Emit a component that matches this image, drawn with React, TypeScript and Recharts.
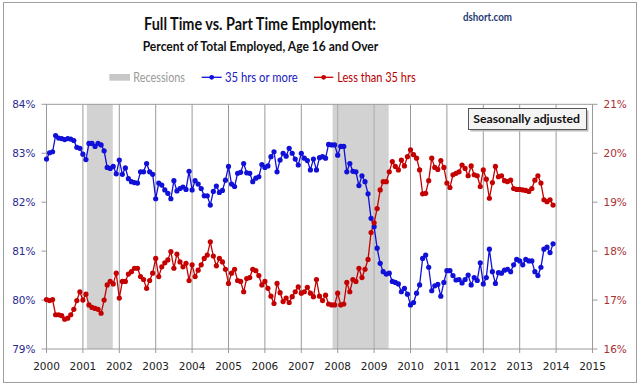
import {
  CartesianGrid,
  Line,
  LineChart,
  ReferenceArea,
  ReferenceLine,
  XAxis,
  YAxis,
} from "recharts";

const YEARS = [
  2000, 2001, 2002, 2003, 2004, 2005, 2006, 2007, 2008, 2009, 2010, 2011, 2012,
  2013, 2014, 2015,
];
const LEFT_TICKS = [79, 80, 81, 82, 83, 84];
const RIGHT_TICKS = [16, 17, 18, 19, 20, 21];

// recession spans, decimal years
const RECESSIONS = [
  [2001.11, 2001.82],
  [2007.86, 2009.4],
];

// 35 hrs or more, % of employed, monthly from Jan 2000
const FULL_TIME = [
  82.88, 83.01, 83.03, 83.36, 83.31, 83.3, 83.28, 83.3, 83.29, 83.26, 83.12, 83.1,
  82.98, 82.87, 83.2, 83.2, 83.14, 83.2, 83.17, 83.05, 82.71, 82.69, 82.73, 82.58,
  82.86, 82.57, 82.7, 82.48, 82.42, 82.4, 82.39, 82.62, 82.62, 82.79, 82.62, 82.57,
  82.07, 82.39, 82.35, 82.25, 82.18, 82.07, 82.44, 82.23, 82.28, 82.31, 82.26, 82.63,
  82.25, 82.44, 82.37, 82.28, 82.13, 82.13, 81.94, 82.22, 82.33, 82.2, 82.24, 82.45,
  82.73, 82.37, 82.32, 82.59, 82.61, 82.79, 82.6, 82.59, 82.42, 82.49, 82.52, 82.77,
  82.71, 82.74, 82.93, 83.03, 82.62, 82.86, 83.0, 82.94, 83.1, 83.0, 82.88, 82.76,
  83.0, 82.9, 82.85, 82.66, 82.88, 82.66, 82.91, 82.93, 82.9, 83.18, 83.17, 83.17,
  82.96, 83.14, 83.14, 82.62, 82.79, 82.63, 82.62, 82.34, 82.54, 82.42, 82.17, 81.67,
  81.5, 81.06, 80.75, 80.58, 80.53, 80.55, 80.38, 80.36, 80.33, 80.17, 80.24, 80.12,
  79.9, 79.95, 80.14, 80.31, 80.85, 80.92, 80.67, 80.19, 80.29, 80.32, 80.08, 80.36,
  80.6, 80.6, 80.5, 80.41, 80.42, 80.35, 80.42, 80.51, 80.31, 80.46, 80.4, 80.76,
  80.33, 80.46, 81.04, 80.58, 80.34, 80.56, 80.55, 80.61, 80.63, 80.58, 80.72, 80.83,
  80.8, 80.72, 80.83, 80.8, 80.8, 80.58, 80.5, 80.67, 81.04, 81.08, 80.97, 81.15,
];

// less than 35 hrs
const PART_TIME = [
  17.01, 16.99, 17.01, 16.7, 16.7, 16.68, 16.61, 16.63, 16.7, 16.81, 16.99, 17.17,
  17.0, 17.12, 16.9, 16.85, 16.83, 16.81, 16.73, 17.0, 17.31, 17.38, 17.33, 17.55,
  17.04, 17.38, 17.38, 17.53, 17.58, 17.65, 17.65, 17.48, 17.42, 17.24, 17.4, 17.55,
  17.85, 17.48, 17.68, 17.76, 17.82, 17.99, 17.65, 17.94, 17.78, 17.68, 17.75, 17.4,
  17.72, 17.48, 17.61, 17.72, 17.85, 17.92, 18.19, 17.9, 17.7, 17.85, 17.78, 17.63,
  17.34, 17.55, 17.63, 17.4, 17.38, 17.17, 17.44, 17.46, 17.63, 17.6, 17.5, 17.31,
  17.38, 17.24, 17.08, 16.93, 17.34, 17.15, 16.97, 17.04, 16.95, 17.07, 17.17, 17.27,
  17.14, 17.17, 17.26, 17.14, 17.07, 17.42, 17.08, 16.99, 17.1, 16.92, 16.9, 16.9,
  17.14, 16.9, 16.92, 17.36, 17.17, 17.42, 17.38, 17.65, 17.46, 17.63, 17.83, 18.38,
  18.58, 18.87, 19.25, 19.42, 19.42, 19.62, 19.83, 19.73, 19.66, 19.86, 19.74, 19.93,
  20.07, 19.97, 19.9, 19.66, 19.17, 19.18, 19.44, 19.9, 19.71, 19.67, 19.85, 19.71,
  19.39, 19.3, 19.56, 19.59, 19.62, 19.76, 19.69, 19.54, 19.74, 19.56, 19.54, 19.32,
  19.66, 19.47, 19.08, 19.4, 19.73, 19.52, 19.54, 19.44, 19.42, 19.45, 19.28, 19.26,
  19.26, 19.25, 19.24, 19.22, 19.28, 19.45, 19.54, 19.39, 19.05, 19.01, 19.05, 18.94,
];

const data = FULL_TIME.map((v, i) => ({
  t: 2000 + i / 12,
  full: v,
  part: PART_TIME[i],
}));

const BLUE = "#1010d8";
const RED = "#c40000";
const GRID = "#9a9a9a";
const TICK_FONT = "DejaVu Sans, Verdana, sans-serif";
const TITLE_FONT = "Lato, Carlito, Calibri, sans-serif";

const Overlay = () => (
  <svg
    width={640}
    height={387}
    style={{ position: "absolute", left: 0, top: 0, pointerEvents: "none" }}
  >
    <rect x={3.5} y={2.5} width={633} height={380} fill="none" stroke="#a0a0a0" />
    <text
      x={144}
      y={30}
      textLength={232}
      lengthAdjust="spacingAndGlyphs"
      fontFamily={TITLE_FONT}
      fontWeight={700}
      fontSize={16.5}
      fill="#111"
    >
      Full Time vs. Part Time Employment:
    </text>
    <text
      x={142.7}
      y={50.7}
      textLength={235.6}
      lengthAdjust="spacingAndGlyphs"
      fontFamily={TITLE_FONT}
      fontWeight={700}
      fontSize={12.8}
      fill="#111"
    >
      Percent of Total Employed, Age 16 and Over
    </text>
    <text
      x={463}
      y={20.7}
      textLength={49}
      lengthAdjust="spacingAndGlyphs"
      fontFamily={TITLE_FONT}
      fontWeight={700}
      fontSize={10.5}
      fill="#1f3b73"
    >
      dshort.com
    </text>

    {/* legend */}
    <rect x={109.3} y={74} width={20.7} height={6.7} fill="#c8c8c8" />
    <text
      x={133.3}
      y={81.5}
      textLength={51.7}
      lengthAdjust="spacingAndGlyphs"
      fontFamily={TITLE_FONT}
      fontSize={12.5}
      fill="#9a9a9a"
    >
      Recessions
    </text>
    <line x1={201.7} x2={221.7} y1={77.3} y2={77.3} stroke={BLUE} strokeWidth={1.3} />
    <circle cx={211.7} cy={77.3} r={2.4} fill={BLUE} />
    <text
      x={225}
      y={81.5}
      textLength={72.7}
      lengthAdjust="spacingAndGlyphs"
      fontFamily={TITLE_FONT}
      fontSize={12.5}
      fill="#2020c0"
    >
      35 hrs or more
    </text>
    <line x1={314} x2={333.3} y1={77.3} y2={77.3} stroke={RED} strokeWidth={1.3} />
    <circle cx={323.7} cy={77.3} r={2.4} fill={RED} />
    <text
      x={337.3}
      y={81.5}
      textLength={78.4}
      lengthAdjust="spacingAndGlyphs"
      fontFamily={TITLE_FONT}
      fontSize={12.5}
      fill="#b80000"
    >
      Less than 35 hrs
    </text>

    {/* note box */}
    <rect x={470.5} y={110.5} width={118} height={21} fill="#bdbdbd" />
    <rect x={468.5} y={108.5} width={118} height={21} fill="#f4f4f4" stroke="#555" />
    <text
      x={473.3}
      y={122.5}
      textLength={106.7}
      lengthAdjust="spacingAndGlyphs"
      fontFamily={TITLE_FONT}
      fontWeight={700}
      fontSize={11.5}
      fill="#111"
    >
      Seasonally adjusted
    </text>
  </svg>
);

export default function App() {
  return (
    <div
      style={{
        position: "absolute",
        left: 0,
        top: 0,
        width: 640,
        height: 387,
        background: "#fff",
      }}
    >
      <LineChart
        width={640}
        height={387}
        data={data}
        margin={{ top: 104.3, right: 7, bottom: 8, left: 6 }}
      >
        <CartesianGrid horizontal={false} stroke={GRID} yAxisId="left" />
        {RECESSIONS.map(([a, b]) => (
          <ReferenceArea
            key={a}
            x1={a}
            x2={b}
            yAxisId="left"
            fill="#b4b4b4"
            fillOpacity={0.6}
            stroke="none"
            ifOverflow="visible"
          />
        ))}
        <ReferenceLine y={84} yAxisId="left" stroke={GRID} />
        <XAxis
          dataKey="t"
          type="number"
          domain={[2000, 2015]}
          ticks={YEARS}
          interval={0}
          height={30}
          stroke={GRID}
          tickSize={4}
          tickMargin={10}
          tick={{ fill: "#222", fontSize: 10.5, fontFamily: TICK_FONT }}
        />
        <YAxis
          yAxisId="left"
          domain={[79, 84]}
          ticks={LEFT_TICKS}
          width={40.5}
          stroke={GRID}
          tickSize={5}
          tickMargin={6}
          tickFormatter={(v) => `${v}%`}
          tick={{ fill: "#2a2a90", fontSize: 10.5, fontFamily: TICK_FONT }}
        />
        <YAxis
          yAxisId="right"
          orientation="right"
          domain={[16, 21]}
          ticks={RIGHT_TICKS}
          width={40.5}
          stroke={GRID}
          tickSize={5}
          tickMargin={6}
          tickFormatter={(v) => `${v}%`}
          tick={{ fill: "#a83030", fontSize: 10.5, fontFamily: TICK_FONT }}
        />
        <Line
          yAxisId="left"
          dataKey="full"
          type="linear"
          stroke={BLUE}
          strokeWidth={1.3}
          dot={{ r: 2.6, fill: BLUE, stroke: BLUE, strokeWidth: 0 }}
          activeDot={false}
          isAnimationActive={false}
        />
        <Line
          yAxisId="right"
          dataKey="part"
          type="linear"
          stroke={RED}
          strokeWidth={1.3}
          dot={{ r: 2.6, fill: RED, stroke: RED, strokeWidth: 0 }}
          activeDot={false}
          isAnimationActive={false}
        />
      </LineChart>
      <Overlay />
    </div>
  );
}
